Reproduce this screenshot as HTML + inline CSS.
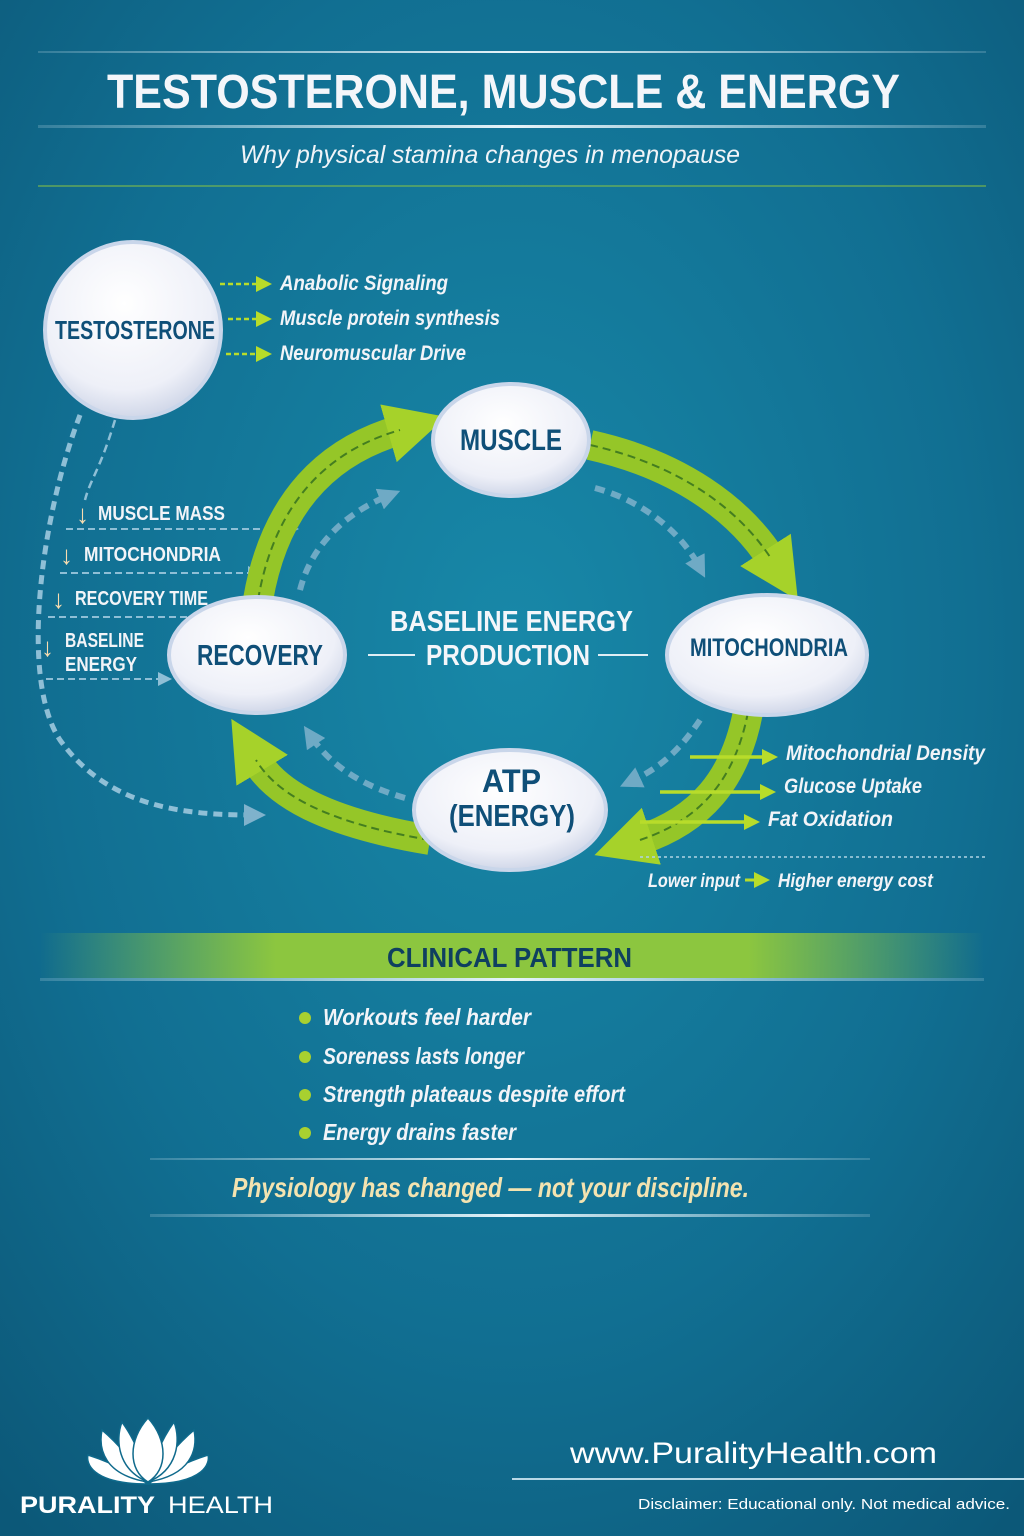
<!DOCTYPE html>
<html><head><meta charset="utf-8"><style>
html,body{margin:0;padding:0;width:1024px;height:1536px;overflow:hidden}
svg{display:block}
text{font-family:"Liberation Sans",sans-serif}
</style></head><body>
<svg width="1024" height="1536" viewBox="0 0 1024 1536" xmlns="http://www.w3.org/2000/svg">
<defs>
<radialGradient id="bg" cx="0.5" cy="0.42" r="0.75">
<stop offset="0" stop-color="#1888a8"/><stop offset="0.6" stop-color="#116f92"/><stop offset="1" stop-color="#0c5878"/>
</radialGradient>
<radialGradient id="node" cx="0.45" cy="0.35" r="0.7">
<stop offset="0" stop-color="#ffffff"/><stop offset="0.7" stop-color="#eef0f8"/><stop offset="1" stop-color="#c8d0e4"/>
</radialGradient>
<linearGradient id="band" x1="0" x2="1">
<stop offset="0" stop-color="#8cc63f" stop-opacity="0"/><stop offset="0.25" stop-color="#8cc63f"/><stop offset="0.75" stop-color="#8cc63f"/><stop offset="1" stop-color="#8cc63f" stop-opacity="0"/>
</linearGradient>
<linearGradient id="line" x1="0" x2="1">
<stop offset="0" stop-color="#cfe6f0" stop-opacity="0.2"/><stop offset="0.5" stop-color="#e6f4fa"/><stop offset="1" stop-color="#cfe6f0" stop-opacity="0.2"/>
</linearGradient>
<marker id="gh" viewBox="0 0 10 10" refX="2" refY="5" markerWidth="60" markerHeight="60" markerUnits="userSpaceOnUse" orient="auto">
<path d="M0,0 L10,5 L0,10 Z" fill="#a6d22a"/></marker>
<marker id="bh" viewBox="0 0 10 10" refX="5" refY="5" markerWidth="22" markerHeight="22" markerUnits="userSpaceOnUse" orient="auto">
<path d="M0,0 L10,5 L0,10 Z" fill="#7fb2cc"/></marker>
<marker id="sh" viewBox="0 0 10 10" refX="5" refY="5" markerWidth="14" markerHeight="14" markerUnits="userSpaceOnUse" orient="auto">
<path d="M0,0 L10,5 L0,10 Z" fill="#8fbfd6"/></marker>
<marker id="yh" viewBox="0 0 10 10" refX="5" refY="5" markerWidth="16" markerHeight="16" markerUnits="userSpaceOnUse" orient="auto">
<path d="M0,0 L10,5 L0,10 Z" fill="#b8dc2a"/></marker>
</defs>
<rect width="1024" height="1536" fill="url(#bg)"/>

<!-- header -->
<rect x="38" y="51" width="948" height="2" fill="url(#line)"/>
<text x="107" y="108" font-size="48" font-weight="bold" fill="#f4f6fa" textLength="793" lengthAdjust="spacingAndGlyphs">TESTOSTERONE, MUSCLE &amp; ENERGY</text>
<rect x="38" y="125" width="948" height="3" fill="url(#line)"/>
<text x="240" y="163" font-size="25" font-style="italic" fill="#f0f4f8" font-family="Liberation Serif" textLength="500" lengthAdjust="spacingAndGlyphs">Why physical stamina changes in menopause</text>
<rect x="38" y="185" width="948" height="2" fill="#8cc63f" opacity="0.5"/>

<!-- testosterone outputs -->
<g stroke="#b8dc2a" stroke-width="2.5" stroke-dasharray="5,3" fill="none">
<line x1="220" y1="284" x2="264" y2="284" marker-end="url(#yh)"/>
<line x1="228" y1="319" x2="264" y2="319" marker-end="url(#yh)"/>
<line x1="226" y1="354" x2="264" y2="354" marker-end="url(#yh)"/>
</g>
<g font-size="21" font-style="italic" font-weight="bold" fill="#f2f4f8" lengthAdjust="spacingAndGlyphs">
<text x="280" y="290" textLength="168" lengthAdjust="spacingAndGlyphs">Anabolic Signaling</text>
<text x="280" y="325" textLength="220" lengthAdjust="spacingAndGlyphs">Muscle protein synthesis</text>
<text x="280" y="360" textLength="186" lengthAdjust="spacingAndGlyphs">Neuromuscular Drive</text>
</g>

<!-- left dashed curves -->
<path d="M80,415 C40,520 20,680 60,740 C110,810 190,815 255,815" stroke="#8fbfd6" stroke-width="5" stroke-dasharray="9,6" fill="none" marker-end="url(#bh)"/>
<path d="M115,420 C100,470 90,480 85,500" stroke="#8fbfd6" stroke-width="2.5" stroke-dasharray="8,5" fill="none"/>
<g stroke="#8fbfd6" stroke-width="2" stroke-dasharray="7,4" fill="none">
<line x1="66" y1="529" x2="292" y2="529" marker-end="url(#sh)"/>
<line x1="60" y1="573" x2="255" y2="573" marker-end="url(#sh)"/>
<line x1="48" y1="617" x2="200" y2="617"/>
<line x1="46" y1="679" x2="165" y2="679" marker-end="url(#sh)"/>
</g>
<g font-size="20" font-weight="bold" fill="#f2f4f8">
<text x="76" y="523" fill="#f7dcb0" font-size="26">↓</text><text x="98" y="520" textLength="127" lengthAdjust="spacingAndGlyphs">MUSCLE MASS</text>
<text x="60" y="564" fill="#f7dcb0" font-size="26">↓</text><text x="84" y="561" textLength="137" lengthAdjust="spacingAndGlyphs">MITOCHONDRIA</text>
<text x="52" y="608" fill="#f7dcb0" font-size="26">↓</text><text x="75" y="605" textLength="133" lengthAdjust="spacingAndGlyphs">RECOVERY TIME</text>
<text x="41" y="656" fill="#f7dcb0" font-size="26">↓</text><text x="65" y="647" textLength="79" lengthAdjust="spacingAndGlyphs">BASELINE</text><text x="65" y="671" textLength="72" lengthAdjust="spacingAndGlyphs">ENERGY</text>
</g>

<!-- inner dashed blue arcs -->
<g stroke="#7fb2cc" stroke-width="6" stroke-dasharray="10,7" fill="none" opacity="0.85">
<path d="M300,590 C310,550 340,515 390,495" marker-end="url(#bh)"/>
<path d="M595,488 C640,500 680,530 700,568" marker-end="url(#bh)"/>
<path d="M700,720 C680,750 660,768 630,782" marker-end="url(#bh)"/>
<path d="M405,798 C360,785 330,765 310,735" marker-end="url(#bh)"/>
</g>

<!-- green arcs -->
<g stroke="#95c628" stroke-width="30" fill="none">
<path d="M258,600 C275,500 330,450 400,430" marker-end="url(#gh)"/>
<path d="M590,445 C680,465 740,510 772,560" marker-end="url(#gh)"/>
<path d="M748,712 C735,780 700,820 640,840" marker-end="url(#gh)"/>
<path d="M430,840 C340,825 280,800 256,760" marker-end="url(#gh)"/>
</g>
<g stroke="#2f6b1e" stroke-width="2" stroke-dasharray="8,5" fill="none" opacity="0.8">
<path d="M258,600 C275,500 330,450 400,430"/>
<path d="M590,445 C680,465 740,510 772,560"/>
<path d="M748,712 C735,780 700,820 640,840"/>
<path d="M430,840 C340,825 280,800 256,760"/>
</g>

<!-- center text -->
<text x="390" y="631" font-size="29" font-weight="bold" fill="#f4f6fa" textLength="243" lengthAdjust="spacingAndGlyphs">BASELINE ENERGY</text>
<text x="426" y="665" font-size="29" font-weight="bold" fill="#f4f6fa" textLength="164" lengthAdjust="spacingAndGlyphs">PRODUCTION</text>
<line x1="368" y1="655" x2="415" y2="655" stroke="#dfeef5" stroke-width="2"/>
<line x1="598" y1="655" x2="648" y2="655" stroke="#dfeef5" stroke-width="2"/>

<!-- right outputs -->
<g stroke="#b8dc2a" stroke-width="3.5" fill="none">
<line x1="690" y1="757" x2="770" y2="757" marker-end="url(#yh)"/>
<line x1="660" y1="792" x2="768" y2="792" marker-end="url(#yh)"/>
<line x1="640" y1="822" x2="752" y2="822" marker-end="url(#yh)"/>
</g>
<g font-size="21" font-style="italic" font-weight="bold" fill="#f2f4f8">
<text x="786" y="760" textLength="199" lengthAdjust="spacingAndGlyphs">Mitochondrial Density</text>
<text x="784" y="793" textLength="138" lengthAdjust="spacingAndGlyphs">Glucose Uptake</text>
<text x="768" y="826" textLength="125" lengthAdjust="spacingAndGlyphs">Fat Oxidation</text>
</g>
<line x1="640" y1="857" x2="986" y2="857" stroke="#b0d4e4" stroke-width="1.5" stroke-dasharray="3,3"/>
<text x="648" y="887" font-size="19" font-style="italic" font-weight="bold" fill="#f2f4f8" textLength="92" lengthAdjust="spacingAndGlyphs">Lower input</text>
<line x1="745" y1="880" x2="762" y2="880" stroke="#b8dc2a" stroke-width="3" marker-end="url(#yh)"/>
<text x="778" y="887" font-size="19" font-style="italic" font-weight="bold" fill="#f2f4f8" textLength="155" lengthAdjust="spacingAndGlyphs">Higher energy cost</text>

<!-- nodes -->
<g stroke="#c9d6ea" stroke-width="4" fill="url(#node)">
<circle cx="133" cy="330" r="88"/>
<ellipse cx="511" cy="440" rx="78" ry="56"/>
<ellipse cx="767" cy="655" rx="100" ry="60"/>
<ellipse cx="510" cy="810" rx="96" ry="60"/>
<ellipse cx="257" cy="655" rx="88" ry="58"/>
</g>
<g font-weight="bold" fill="#0f4f78">
<text x="55" y="339" font-size="26" textLength="160" lengthAdjust="spacingAndGlyphs">TESTOSTERONE</text>
<text x="460" y="450" font-size="30" textLength="102" lengthAdjust="spacingAndGlyphs">MUSCLE</text>
<text x="690" y="656" font-size="25" textLength="158" lengthAdjust="spacingAndGlyphs">MITOCHONDRIA</text>
<text x="482" y="792" font-size="32" textLength="59" lengthAdjust="spacingAndGlyphs">ATP</text>
<text x="449" y="826" font-size="31" textLength="126" lengthAdjust="spacingAndGlyphs">(ENERGY)</text>
<text x="197" y="665" font-size="29" textLength="126" lengthAdjust="spacingAndGlyphs">RECOVERY</text>
</g>

<!-- clinical pattern -->
<rect x="40" y="933" width="944" height="45" fill="url(#band)"/>
<rect x="40" y="978" width="944" height="3" fill="url(#line)"/>
<text x="387" y="967" font-size="28" font-weight="bold" fill="#0f3f60" textLength="245" lengthAdjust="spacingAndGlyphs">CLINICAL PATTERN</text>
<g font-size="23" font-style="italic" font-weight="bold" fill="#f2f4f8">
<circle cx="305" cy="1018" r="6" fill="#a8d030"/><text x="323" y="1025" textLength="208" lengthAdjust="spacingAndGlyphs">Workouts feel harder</text>
<circle cx="305" cy="1057" r="6" fill="#a8d030"/><text x="323" y="1064" textLength="201" lengthAdjust="spacingAndGlyphs">Soreness lasts longer</text>
<circle cx="305" cy="1095" r="6" fill="#a8d030"/><text x="323" y="1102" textLength="302" lengthAdjust="spacingAndGlyphs">Strength plateaus despite effort</text>
<circle cx="305" cy="1133" r="6" fill="#a8d030"/><text x="323" y="1140" textLength="193" lengthAdjust="spacingAndGlyphs">Energy drains faster</text>
</g>
<rect x="150" y="1158" width="720" height="2" fill="url(#line)"/>
<text x="232" y="1197" font-size="28" font-style="italic" font-weight="bold" fill="#f3e3b0" textLength="517" lengthAdjust="spacingAndGlyphs">Physiology has changed — not your discipline.</text>
<rect x="150" y="1214" width="720" height="3" fill="url(#line)"/>

<!-- footer -->
<g fill="#ffffff" stroke="#0f6a8c" stroke-width="1.5">
<path d="M148,1484 C90,1484 86,1462 88,1455 C110,1462 130,1472 148,1484 Z"/>
<path d="M148,1484 C206,1484 210,1462 208,1455 C186,1462 166,1472 148,1484 Z"/>
<path d="M148,1482 C105,1475 98,1450 102,1430 C120,1445 135,1465 148,1482 Z"/>
<path d="M148,1482 C191,1475 198,1450 194,1430 C176,1445 161,1465 148,1482 Z"/>
<path d="M148,1482 C118,1470 115,1440 122,1422 C135,1440 145,1465 148,1482 Z"/>
<path d="M148,1482 C178,1470 181,1440 174,1422 C161,1440 151,1465 148,1482 Z"/>
<path d="M148,1482 C128,1470 128,1440 148,1418 C168,1440 168,1470 148,1482 Z"/>
</g>
<text x="20" y="1513" font-size="24" font-weight="bold" fill="#ffffff" textLength="135" lengthAdjust="spacingAndGlyphs">PURALITY</text>
<text x="168" y="1513" font-size="24" fill="#ffffff" textLength="105" lengthAdjust="spacingAndGlyphs">HEALTH</text>
<text x="570" y="1463" font-size="30" fill="#ffffff" textLength="367" lengthAdjust="spacingAndGlyphs">www.PuralityHealth.com</text>
<rect x="512" y="1478" width="512" height="2" fill="#b8d8e6"/>
<text x="638" y="1509" font-size="15" fill="#ffffff" textLength="372" lengthAdjust="spacingAndGlyphs">Disclaimer: Educational only. Not medical advice.</text>
</svg>
</body></html>
